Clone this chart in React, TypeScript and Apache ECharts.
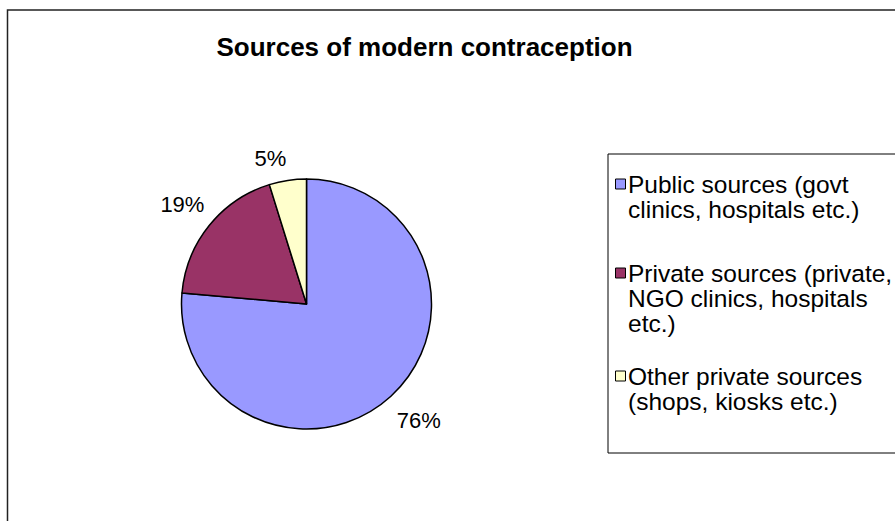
import React, { useEffect, useRef } from 'react';
import * as echarts from 'echarts';

const chartTitle = 'Sources of modern contraception';
const categories = [
  'Public sources (govt\nclinics, hospitals etc.)',
  'Private sources (private,\nNGO clinics, hospitals\netc.)',
  'Other private sources\n(shops, kiosks etc.)',
];
const values = [76.4, 18.8, 4.8];
const colors = ['#9999FF', '#993366', '#FFFFCC'];

const FONT = '"Liberation Sans", Arial, sans-serif';
// small per-label nudges (px) to match the reference's label placement
const labelNudge = [
  [4, 4],
  [0, -3],
  [-8, 6],
];

export default function App() {
  const ref = useRef<HTMLDivElement>(null);
  useEffect(() => {
    document.body.style.margin = '0';
    const chart = echarts.init(ref.current!, null, { renderer: 'svg' });
    const legendY = [184, 273, 376];
    const graphics: any[] = [
      {
        type: 'rect',
        silent: true,
        shape: { x: 7.5, y: 10, width: 900, height: 530 },
        style: { fill: 'none', stroke: '#222', lineWidth: 1.5 },
      },
      {
        type: 'rect',
        silent: true,
        shape: { x: 608, y: 154, width: 300, height: 299 },
        style: { fill: '#fff', stroke: '#000', lineWidth: 1 },
      },
    ];
    categories.forEach((c, i) => {
      graphics.push({
        type: 'rect',
        silent: true,
        shape: { x: 615.5, y: legendY[i] - 5, width: 10, height: 10 },
        style: { fill: colors[i], stroke: '#000', lineWidth: 1 },
      });
      graphics.push({
        type: 'text',
        silent: true,
        x: 628,
        y: legendY[i] - 12.5,
        style: {
          text: c,
          font: `24.5px ${FONT}`,
          lineHeight: 25,
          fill: '#000',
          verticalAlign: 'top',
          align: 'left',
        },
      });
    });
    chart.setOption({
      animation: false,
      title: {
        text: chartTitle,
        left: 424.5,
        textAlign: 'center',
        top: 34,
        padding: 0,
        textStyle: { fontFamily: FONT, fontSize: 26, fontWeight: 'bold', color: '#000' },
      },
      graphic: graphics,
      series: [
        {
          type: 'pie',
          center: [306.5, 304],
          radius: 125,
          startAngle: 90,
          clockwise: true,
          avoidLabelOverlap: false,
          data: categories.map((c, i) => ({ name: c, value: values[i], itemStyle: { color: colors[i] } })),
          itemStyle: { borderColor: '#000', borderWidth: 1.5 },
          label: {
            show: true,
            position: 'outside',
            formatter: (p: any) => Math.round(p.percent) + '%',
            fontFamily: FONT,
            fontSize: 22,
            color: '#000',
          },
          labelLine: { show: false, length: 28, length2: 0 },
          labelLayout: (p: any) => ({
            align: 'center',
            dx: labelNudge[p.dataIndex][0],
            dy: labelNudge[p.dataIndex][1],
          }),
          emphasis: { disabled: true },
        },
      ],
    });
    return () => chart.dispose();
  }, []);
  return <div ref={ref} style={{ width: 895, height: 521 }} />;
}
